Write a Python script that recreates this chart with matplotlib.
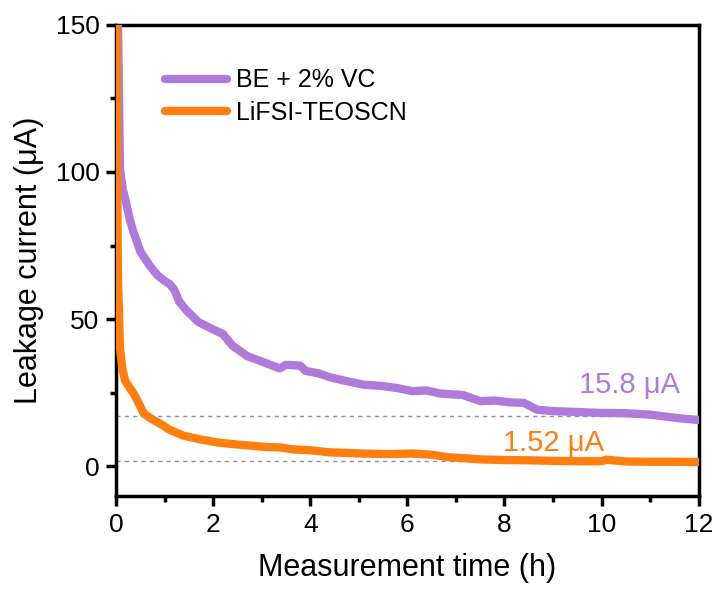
import matplotlib.pyplot as plt
from matplotlib.ticker import MultipleLocator

plt.rcParams['font.family'] = ['Liberation Sans', 'DejaVu Sans']

# BE + 2% VC
be_time = [0.0, 0.04, 0.08, 0.14, 0.2, 0.28, 0.35, 0.5, 0.7, 0.85, 1.0, 1.1, 1.2, 1.3, 1.45,
           1.7, 1.94, 2.2, 2.4, 2.7, 3.1, 3.37, 3.5, 3.65, 3.8, 3.9, 4.2, 4.4, 4.8, 5.1, 5.5,
           5.8, 6.1, 6.4, 6.67, 6.9, 7.14, 7.5, 7.8, 8.1, 8.4, 8.67, 9.0, 9.5, 9.96,
           10.5, 11.0, 11.34, 11.7, 12.0]
be_current = [165, 150, 101, 94, 90, 84, 80, 73, 68, 65, 63, 62, 60, 56, 53,
              49, 47, 45, 41, 37.5, 35, 33.3, 34.5, 34.4, 34.2, 32.5, 31.5, 30.3, 28.8, 27.8, 27.3,
              26.6, 25.6, 25.8, 24.8, 24.5, 24.3, 22.2, 22.4, 21.8, 21.6, 19.3, 18.8, 18.5, 18.2,
              18.1, 17.6, 16.9, 16.2, 15.8]

# LiFSI-TEOSCN
li_time = [0.0, 0.01, 0.02, 0.04, 0.08, 0.13, 0.19, 0.27, 0.36, 0.45, 0.57, 0.7, 0.9,
           1.1, 1.38, 1.7, 2.07, 2.4, 2.76, 3.1, 3.37, 3.65, 4.0, 4.4, 5.1, 5.6, 6.1,
           6.5, 6.87, 7.2, 7.5, 8.0, 8.5, 9.0, 9.5, 10.0, 10.1, 10.5, 11.0, 11.5, 12.0]
li_current = [165, 150, 100, 63, 40.5, 33, 29, 27, 24.8, 22, 18, 16.5, 14.6,
              12.5, 10.5, 9.3, 8.2, 7.6, 7.1, 6.6, 6.5, 5.8, 5.5, 4.8, 4.4, 4.2, 4.4,
              4.0, 3.1, 2.8, 2.4, 2.2, 2.1, 1.9, 1.8, 1.8, 2.3, 1.7, 1.6, 1.6, 1.5]

ref_levels = [17.0, 2.0]
purple = '#B07ADC'
orange = '#FF7F0E'

fig = plt.figure(figsize=(7.21, 5.89), dpi=100)
ax = fig.add_axes([0.161, 0.158, 0.808, 0.8])

for lvl in ref_levels:
    ax.axhline(lvl, color='#909090', lw=1.0, ls=(0, (3, 3)), zorder=1)

ax.plot(be_time, be_current, color=purple, lw=6, label='BE + 2% VC',
        solid_capstyle='round', solid_joinstyle='round', zorder=3)
ax.plot(li_time, li_current, color=orange, lw=6, label='LiFSI-TEOSCN',
        solid_capstyle='round', solid_joinstyle='round', zorder=3)

ax.text(11.61, 24.8, '15.8 μA', color=purple, fontsize=21, ha='right', va='baseline')
ax.text(10.05, 5.4, '1.52 μA', color=orange, fontsize=21, ha='right', va='baseline')

ax.set_xlim(0, 12)
ax.set_ylim(-10, 150)
ax.xaxis.set_major_locator(MultipleLocator(2))
ax.xaxis.set_minor_locator(MultipleLocator(1))
ax.yaxis.set_major_locator(MultipleLocator(50))
ax.yaxis.set_minor_locator(MultipleLocator(25))
ax.tick_params(which='major', direction='out', length=7, width=2.5, labelsize=19, pad=5)
ax.tick_params(which='minor', direction='out', length=4, width=2.5)
for sp in ax.spines.values():
    sp.set_linewidth(2.5)

ax.set_xlabel('Measurement time (h)', fontsize=22, labelpad=12)
ax.set_ylabel('Leakage current (μA)', fontsize=22, labelpad=8)

leg = ax.legend(loc='upper left', bbox_to_anchor=(0.045, 0.955), frameon=False,
                fontsize=18, handlelength=2.5, handletextpad=0.35, labelspacing=0.35)

fig.savefig('out.png', dpi=100)
